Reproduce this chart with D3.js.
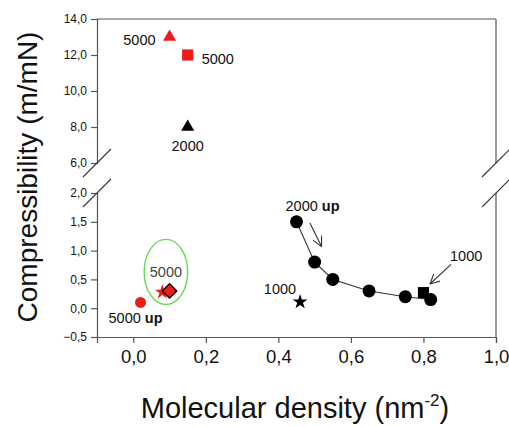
<!DOCTYPE html>
<html>
<head>
<meta charset="utf-8">
<script src="https://cdn.jsdelivr.net/npm/d3@7"></script>
<style>
  body { margin: 0; background: #fff; }
  svg { font-family: "Liberation Sans", Arial, sans-serif; }
</style>
</head>
<body>
<svg id="chart" width="509" height="427"></svg>
<script>
// data
var circleX = [0.45, 0.50, 0.55, 0.65, 0.75, 0.82];
var circleY = [1.5, 0.8, 0.5, 0.3, 0.2, 0.15];

var upperPoints = [
  {x: 0.10, y: 13.0, shape: "triangle", color: "red"},
  {x: 0.15, y: 12.0, shape: "square", color: "red"},
  {x: 0.15, y: 8.0, shape: "triangle", color: "black"}
];
var lowerPoints = [
  {x: 0.02, y: 0.10, shape: "circle", color: "red"},
  {x: 0.08, y: 0.28, shape: "star", color: "red"},
  {x: 0.10, y: 0.30, shape: "diamond", color: "red"},
  {x: 0.80, y: 0.27, shape: "square", color: "black"},
  {x: 0.46, y: 0.11, shape: "star", color: "black"}
];

var xTicks = [0, 0.2, 0.4, 0.6, 0.8, 1.0];
var yTopTicks = [6, 8, 10, 12, 14];
var yBotTicks = [-0.5, 0, 0.5, 1.0, 1.5, 2.0];

// ellipse around the 5000 group (data units)
var groupEllipse = {cx: 0.09, cy: 0.63, rx: 0.06, ry: 0.565};

// arrows, data units
var arrows = [
  {x1: 0.487, y1: 1.48, x2: 0.519, y2: 1.07},
  {x1: 0.876, y1: 0.76, x2: 0.818, y2: 0.42}
];

var RED = "#ee1b1b";

var svg = d3.select("#chart");

var x = d3.scaleLinear().domain([-0.1, 1.0]).range([97, 496]);
var yTop = d3.scaleLinear().domain([6, 14]).range([163, 19]);
var yBot = d3.scaleLinear().domain([-0.5, 2]).range([337, 193]);

var fmt = function(d) { return d3.format(".1f")(d).replace(".", ","); };

// axes
var gTop = svg.append("g").attr("transform", "translate(97,0)")
  .call(d3.axisLeft(yTop).tickValues(yTopTicks).tickFormat(fmt).tickSizeOuter(0).tickSize(6));
var gBot = svg.append("g").attr("transform", "translate(97,0)")
  .call(d3.axisLeft(yBot).tickValues(yBotTicks).tickFormat(fmt).tickSizeOuter(0).tickSize(6));
var gX = svg.append("g").attr("transform", "translate(0,337)")
  .call(d3.axisBottom(x).tickValues(xTicks).tickFormat(fmt).tickSizeOuter(0).tickSize(6));

[gTop, gBot].forEach(function(g) {
  g.selectAll("path, line").attr("stroke", "#555").attr("stroke-width", 1.2);
  g.selectAll("text").attr("font-size", "12px").attr("fill", "#111").attr("x", -10);
});
gX.selectAll("path, line").attr("stroke", "#555").attr("stroke-width", 1.2);
gX.selectAll("text").attr("font-size", "18.5px").attr("fill", "#111").attr("y", 13);

// right side and top of frame
svg.append("line").attr("x1", x(-0.1)).attr("x2", x(1.0)).attr("y1", yTop(14)).attr("y2", yTop(14))
  .attr("stroke", "#555").attr("stroke-width", 1.2);
svg.append("line").attr("x1", x(1.0)).attr("x2", x(1.0)).attr("y1", yTop(14)).attr("y2", yTop(6))
  .attr("stroke", "#555").attr("stroke-width", 1.2);
svg.append("line").attr("x1", x(1.0)).attr("x2", x(1.0)).attr("y1", yBot(2)).attr("y2", yBot(-0.5))
  .attr("stroke", "#555").attr("stroke-width", 1.2);

// break marks
[x(-0.1), x(1.0)].forEach(function(px) {
  [yTop(6), yBot(2)].forEach(function(py) {
    svg.append("line")
      .attr("x1", px - 14).attr("y1", py + 14)
      .attr("x2", px + 14).attr("y2", py - 14)
      .attr("stroke", "#333").attr("stroke-width", 1.1);
  });
});

// axis titles
svg.append("text")
  .attr("transform", "translate(37,177)rotate(-90)")
  .attr("text-anchor", "middle")
  .attr("font-size", "28px")
  .attr("fill", "#111")
  .text("Compressibility (m/mN)");

var xt = svg.append("text")
  .attr("x", 295).attr("y", 418)
  .attr("text-anchor", "middle")
  .attr("font-size", "29px")
  .attr("fill", "#111");
xt.append("tspan").text("Molecular density (nm");
xt.append("tspan").attr("font-size", "17px").attr("dy", -12).text("-2");
xt.append("tspan").attr("dy", 12).text(")");

// ellipse
svg.append("ellipse")
  .attr("cx", x(groupEllipse.cx)).attr("cy", yBot(groupEllipse.cy))
  .attr("rx", x(groupEllipse.cx + groupEllipse.rx) - x(groupEllipse.cx))
  .attr("ry", yBot(groupEllipse.cy) - yBot(groupEllipse.cy + groupEllipse.ry))
  .attr("fill", "none").attr("stroke", "#6ad65a").attr("stroke-width", 1.4);

// connecting line through circles
var circles = circleX.map(function(d, i) { return {x: d, y: circleY[i]}; });
svg.append("path")
  .datum(circles)
  .attr("fill", "none").attr("stroke", "#333").attr("stroke-width", 1.1)
  .attr("d", d3.line().x(function(d) { return x(d.x); }).y(function(d) { return yBot(d.y); }));

// arrows
svg.append("defs").append("marker")
  .attr("id", "arr").attr("viewBox", "0 0 10 10")
  .attr("refX", 10).attr("refY", 5)
  .attr("markerWidth", 10).attr("markerHeight", 10)
  .attr("markerUnits", "userSpaceOnUse")
  .attr("orient", "auto")
  .append("path").attr("d", "M0,0L10,5L0,10")
  .attr("fill", "none").attr("stroke", "#333").attr("stroke-width", 1.1);

svg.selectAll(".arrow").data(arrows).enter().append("line")
  .attr("x1", function(d) { return x(d.x1); }).attr("y1", function(d) { return yBot(d.y1); })
  .attr("x2", function(d) { return x(d.x2); }).attr("y2", function(d) { return yBot(d.y2); })
  .attr("stroke", "#333").attr("stroke-width", 1.1)
  .attr("marker-end", "url(#arr)");

var symbolFor = {
  triangle: d3.symbol().type(d3.symbolTriangle).size(75),
  square: d3.symbol().type(d3.symbolSquare).size(125),
  circle: d3.symbol().type(d3.symbolCircle).size(95),
  star: d3.symbol().type(d3.symbolStar).size(70),
  diamond: d3.symbol().type(d3.symbolSquare).size(105)
};

function drawPoints(data, yScale) {
  svg.append("g").selectAll("path").data(data).enter().append("path")
    .attr("transform", function(d) {
      return "translate(" + x(d.x) + "," + yScale(d.y) + ")" + (d.shape === "diamond" ? "rotate(45)" : "");
    })
    .attr("d", function(d) { return symbolFor[d.shape](); })
    .attr("fill", function(d) { return d.color === "red" ? RED : "#000"; })
    .attr("stroke", function(d) { return d.shape === "diamond" ? "#000" : "none"; })
    .attr("stroke-width", 1.3);
}
drawPoints(upperPoints, yTop);

svg.append("g").selectAll("circle").data(circles).enter().append("circle")
  .attr("cx", function(d) { return x(d.x); })
  .attr("cy", function(d) { return yBot(d.y); })
  .attr("r", 6.5)
  .attr("fill", "#000");

drawPoints(lowerPoints, yBot);

// point labels
function label(px, py, anchor, txt, bold, color) {
  var t = svg.append("text")
    .attr("x", px).attr("y", py)
    .attr("text-anchor", anchor)
    .attr("font-size", "14.5px")
    .attr("fill", color || "#111");
  t.append("tspan").text(txt);
  if (bold) t.append("tspan").attr("font-weight", "bold").text(" " + bold);
}
label(x(upperPoints[0].x) - 14, yTop(upperPoints[0].y) + 8, "end", "5000");
label(x(upperPoints[1].x) + 14, yTop(upperPoints[1].y) + 9, "start", "5000");
label(x(upperPoints[2].x), yTop(upperPoints[2].y) + 24, "middle", "2000");
label(x(lowerPoints[0].x) - 32, yBot(lowerPoints[0].y) + 21, "start", "5000", "up");
label(x(groupEllipse.cx), yBot(groupEllipse.cy) + 5, "middle", "5000", null, "#444");
label(x(circleX[0]) - 11, yBot(circleY[0]) - 11, "start", "2000", "up");
label(x(arrows[1].x1) - 1, yBot(arrows[1].y1) - 3, "start", "1000");
label(x(lowerPoints[4].x) - 4, yBot(lowerPoints[4].y) - 8, "end", "1000");
</script>
</body>
</html>
